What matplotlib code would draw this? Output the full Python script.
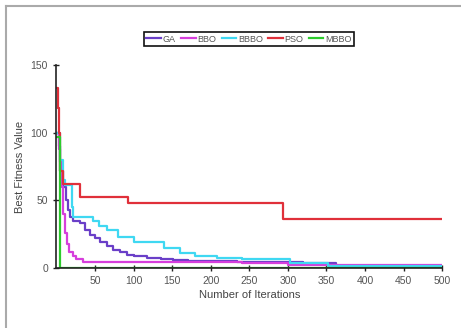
import matplotlib
matplotlib.use("Agg")
import matplotlib.pyplot as plt
from matplotlib.lines import Line2D

plt.rcParams['font.family'] = ['Liberation Sans', 'DejaVu Sans']

# Convergence curves (iteration, best fitness)
ga_iter = [1, 3, 5, 8, 12, 15, 18, 22, 30, 37, 44, 50, 57, 65, 73, 82, 91, 100,
           117, 135, 151, 170, 200, 234, 280, 320, 355, 362, 500]
ga_val = [100, 90, 72, 60, 50, 43, 38, 35, 33, 28, 24, 22, 19.4, 16, 13.3, 11.5,
          9.6, 8.5, 7.2, 6.5, 5.9, 5.5, 5.2, 4.7, 4.2, 3.8, 3.5, 1.2, 1.2]

bbo_iter = [1, 3, 5, 7, 9, 11, 14, 17, 21, 26, 35, 60, 150, 240, 300, 500]
bbo_val = [100, 88, 78, 60, 40, 26, 18, 12, 9, 7, 4.7, 4.5, 4.2, 3.5, 2, 1.5]

bbbo_iter = [1, 5, 8, 11, 20, 22, 48, 55, 65, 80, 100, 122, 140, 160, 180, 208,
             240, 303, 352, 500]
bbbo_val = [100, 80, 65, 61, 45, 38, 35, 31, 28, 23, 19.4, 19.4, 14.6, 11, 9,
            7.2, 6.4, 3.9, 1.5, 1.5]

pso_iter = [1, 2, 3, 5, 8, 31, 93, 294, 500]
pso_val = [133, 118, 100, 72, 62, 52.7, 48.3, 36, 36]

mbbo_iter = [1, 5, 500]
mbbo_val = [97, 0, 0]

series = [
    ("GA", ga_iter, ga_val, "#6a3fc8"),
    ("BBO", bbo_iter, bbo_val, "#d63fdc"),
    ("BBBO", bbbo_iter, bbbo_val, "#3fd8f2"),
    ("PSO", pso_iter, pso_val, "#e0303a"),
    ("MBBO", mbbo_iter, mbbo_val, "#2ccc2c"),
]

x_ticks = [50, 100, 150, 200, 250, 300, 350, 400, 450, 500]
y_ticks = [0, 50, 100, 150]

fig = plt.figure(figsize=(4.61, 3.28), dpi=100)
ax = fig.add_axes([0.1223, 0.183, 0.8367, 0.619])

for name, it, val, col in series:
    ax.plot(it, val, drawstyle="steps-post", color=col, lw=1.6, label=name)

ax.set_xlim(0, 500)
ax.set_ylim(0, 150)
ax.set_xticks(x_ticks)
ax.set_yticks(y_ticks)
for s in ["top", "right"]:
    ax.spines[s].set_visible(False)
for s in ["left", "bottom"]:
    ax.spines[s].set_color("#222222")
    ax.spines[s].set_linewidth(1.2)
ax.tick_params(direction="inout", length=5, width=1, color="#222222",
               labelsize=7.5, labelcolor="#555555")
ax.set_xlabel("Number of Iterations", fontsize=8, color="#444444", labelpad=3)
ax.set_ylabel("Best Fitness Value", fontsize=8, color="#444444", labelpad=4)

leg = fig.legend(loc="center", bbox_to_anchor=(0.54, 0.881), ncol=5,
                 fontsize=6.5, handlelength=1.6, handletextpad=0.2,
                 columnspacing=0.6, borderpad=0.25, fancybox=False,
                 framealpha=1)
leg.get_frame().set_edgecolor("#111111")
leg.get_frame().set_linewidth(1.2)
for t in leg.get_texts():
    t.set_color("#555555")

# Panel frame on left and top
fig.add_artist(Line2D([6 / 461, 6 / 461], [0, 1 - 6 / 328],
                      transform=fig.transFigure, color="#aaaaaa", lw=1.5))
fig.add_artist(Line2D([6 / 461, 1], [1 - 6 / 328, 1 - 6 / 328],
                      transform=fig.transFigure, color="#aaaaaa", lw=1.5))

fig.savefig("out.png", dpi=100)
